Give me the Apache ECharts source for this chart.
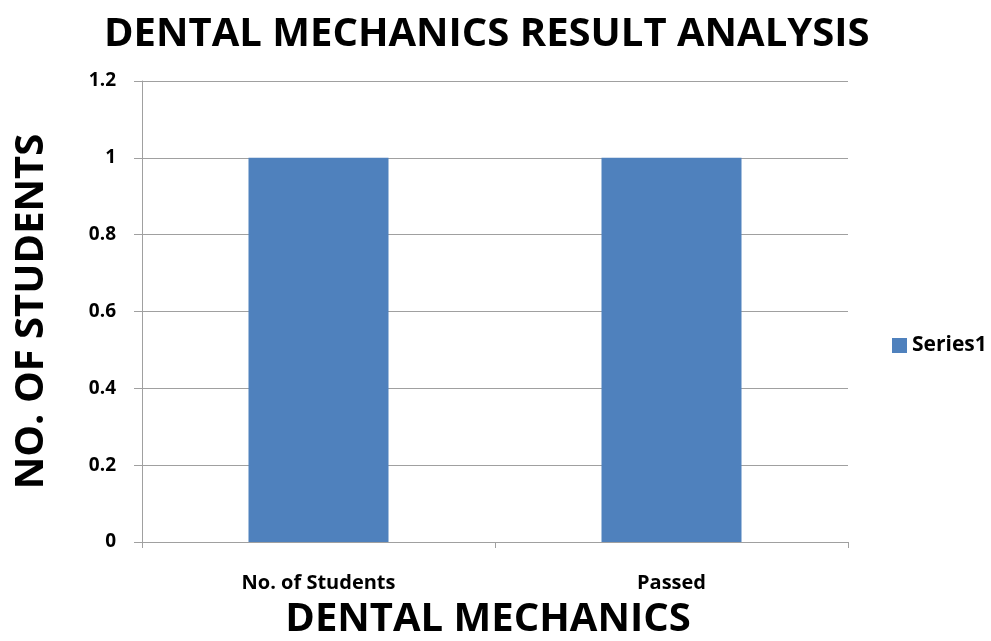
<!DOCTYPE html>
<html><head><meta charset="utf-8">
<script src="https://cdn.jsdelivr.net/npm/echarts@6/dist/echarts.min.js"></script>
<style>html,body{margin:0;padding:0;background:#fff}#c{width:991px;height:641px}</style>
</head><body><div id="c"></div>
<script>
const categories = ["No. of Students", "Passed"];
const series1 = [1, 1];
const yTicks = { min: 0, max: 1.2, interval: 0.2 };
const FONT = '"Open Sans", "DejaVu Sans", sans-serif';
const chart = echarts.init(document.getElementById('c'));
chart.setOption({
  backgroundColor: '#fff',
  animation: false,
  title: {
    text: 'DENTAL MECHANICS RESULT ANALYSIS',
    left: 99, top: 10,
    textStyle: { fontFamily: FONT, fontWeight: 'bold', fontSize: 40, color: '#000' }
  },
  legend: {
    data: ['Series1'], orient: 'vertical', left: 887, top: 330,
    itemWidth: 15, itemHeight: 15, icon: 'rect', itemGap: 6,
    textStyle: { fontFamily: FONT, fontWeight: 'bold', fontSize: 21, color: '#000' }
  },
  grid: { left: 142, right: 143, top: 81, bottom: 99, containLabel: false, outerBoundsMode: 'none' },
  xAxis: {
    type: 'category', data: categories,
    name: 'DENTAL MECHANICS', nameLocation: 'middle', nameGap: 58,
    nameTextStyle: { fontFamily: FONT, fontWeight: 'bold', fontSize: 40, color: '#000', padding: [0, 14, 0, 0] },
    axisLine: { lineStyle: { color: '#a0a0a0', width: 1 } },
    axisTick: { show: true, length: 6, alignWithLabel: false, lineStyle: { color: '#a0a0a0' } },
    axisLabel: { margin: 31, fontFamily: FONT, fontWeight: 'bold', fontSize: 20, color: '#000' }
  },
  yAxis: {
    type: 'value', min: yTicks.min, max: yTicks.max, interval: yTicks.interval,
    name: 'NO. OF STUDENTS', nameLocation: 'middle', nameGap: 90, nameRotate: 90,
    nameTextStyle: { fontFamily: FONT, fontWeight: 'bold', fontSize: 40, color: '#000' },
    axisLine: { show: true, lineStyle: { color: '#a0a0a0', width: 1 } },
    axisTick: { show: true, length: 8, lineStyle: { color: '#a0a0a0' } },
    splitLine: { lineStyle: { color: '#a0a0a0', width: 1 } },
    axisLabel: { margin: 26, fontFamily: FONT, fontWeight: 'bold', fontSize: 19, color: '#000',
      formatter: v => String(Math.round(v * 10) / 10) }
  },
  series: [{
    name: 'Series1', type: 'bar', data: series1, barWidth: 140,
    itemStyle: { color: '#4f81bd' }
  }]
});
</script></body></html>
